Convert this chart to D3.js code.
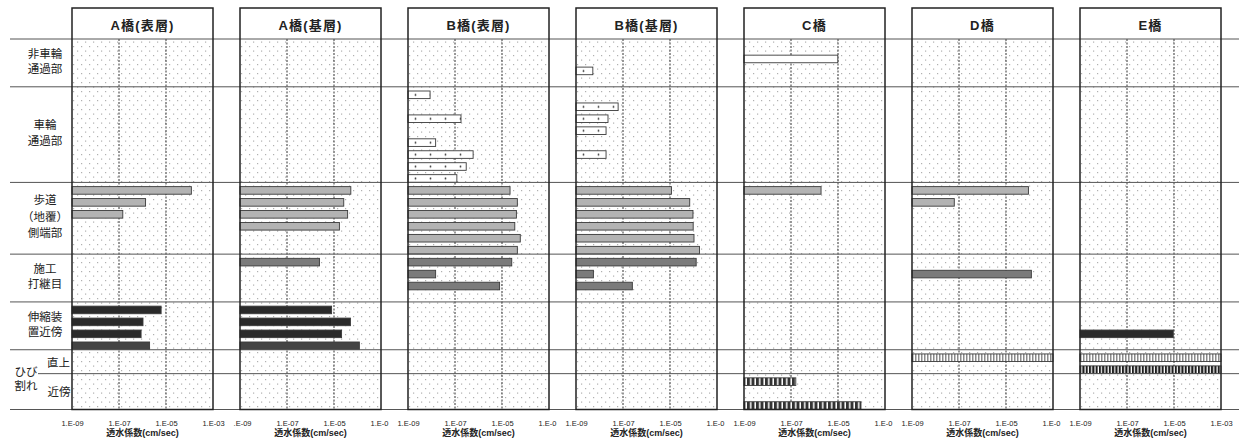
<!DOCTYPE html>
<html>
<head>
<meta charset="utf-8">
<script src="https://cdn.jsdelivr.net/npm/d3@7/dist/d3.min.js"></script>
<style>
  body { margin: 0; background: #fff; }
  svg { display: block; }
</style>
</head>
<body>
<svg id="chart" width="1239" height="438"></svg>
<script>
// panels (bridges) and row groups
const panelTitles = ["A橋(表層)", "A橋(基層)", "B橋(表層)", "B橋(基層)", "C橋", "D橋", "E橋"];
const groupLabels = [["非車輪", "通過部"], ["車輪", "通過部"], ["歩道", "（地覆）", "側端部"], ["施工", "打継目"], ["伸縮装", "置近傍"]];
const slotCounts = [4, 8, 6, 4, 4, 2, 3];

// permeability (cm/sec), one list per panel, null = empty slot
const nonWheelVals = [[], [], [], [null, null, 5.2e-9], [null, 9.8e-6], [], []];
const wheelVals = [[], [], [8.7e-9, null, 1.8e-7, null, 1.5e-8, 5.9e-7, 3e-7, 1.2e-7], [null, 6.2e-8, 2.3e-8, 1.9e-8, null, 1.9e-8], [], [], []];
const sideVals = [
  [1.2e-4, 1.35e-6, 1.45e-7],
  [5.2e-5, 2.6e-5, 3.8e-5, 1.7e-5],
  [2.2e-5, 4.5e-5, 4.1e-5, 3.5e-5, 6e-5, 4.5e-5],
  [1.15e-5, 6.9e-5, 9.5e-5, 9.7e-5, 1.05e-4, 1.8e-4],
  [1.9e-6],
  [9e-5, 6.3e-8],
  []
];
const jointVals = [[], [2.4e-6], [2.6e-5, 1.5e-8, 7.9e-6], [1.3e-4, 5.5e-9, 2.5e-7], [], [null, 1.2e-4], []];
const expansionVals = [[6.2e-6, 1.05e-6, 8.7e-7, 2e-6], [7.9e-6, 5e-5, 2.1e-5, 1.2e-4], [], [], [], [], [null, null, 9.3e-6]];
const crackOnVals = [[], [], [], [], [], [1e-3], [1e-3, 1e-3]];
const crackNearVals = [[], [], [], [], [1.6e-7, null, 9.5e-5], [], []];

const tickVals = [1e-9, 1e-7, 1e-5, 1e-3];
const firstTickLabels = ["1.E-09", ".E-09", "1.E-09", "1.E-09", "1.E-09", "1.E-09", "1.E-09"];
const lastTickLabels = ["1.E-03", "1.E-0", "1.E-0", "1.E-0", "1.E-0", "1.E-0", "1.E-03"];
const axisTitle = "透水係数(cm/sec)";

const groupKeys = ["nonWheel", "wheel", "side", "joint", "expansion", "crackOn", "crackNear"];
const groupVals = [nonWheelVals, wheelVals, sideVals, jointVals, expansionVals, crackOnVals, crackNearVals];

// layout
const panelLeft = 72, panelStep = 168, panelW = 141;
const headTop = 8, plotTop = 39, plotBottom = 409.5;
const FONT = "'Liberation Sans', 'Noto Sans CJK JP', sans-serif";

const svg = d3.select("#chart");
const defs = svg.append("defs");

// background dots
const bg = defs.append("pattern").attr("id", "bgDots")
  .attr("patternUnits", "userSpaceOnUse").attr("width", 8).attr("height", 9);
bg.append("rect").attr("width", 8).attr("height", 9).attr("fill", "#fff");
bg.append("rect").attr("x", 1).attr("y", 1).attr("width", 1.2).attr("height", 1.2).attr("fill", "#b0b0b0");
bg.append("rect").attr("x", 5).attr("y", 5.5).attr("width", 1.2).attr("height", 1.2).attr("fill", "#b0b0b0");

// stripes
function stripes(id, period, dark, color) {
  const p = defs.append("pattern").attr("id", id)
    .attr("patternUnits", "userSpaceOnUse").attr("width", period).attr("height", 20);
  p.append("rect").attr("width", period).attr("height", 20).attr("fill", "#fff");
  p.append("rect").attr("width", dark).attr("height", 20).attr("fill", color);
}
stripes("stripeLight", 3, 1.5, "#8a8a8a");
stripes("stripeDark", 3.3, 2.1, "#1e1e1e");
stripes("stripeNear", 4.5, 3, "#333");

const y = d3.scaleBand()
  .domain(groupKeys.flatMap((g, gi) => d3.range(slotCounts[gi]).map(k => g + k)))
  .range([plotTop, plotBottom]);
const step = y.step();

function barFill(g, k, p) {
  if (g === "nonWheel" && p === 4) return "#fff";
  if (g === "nonWheel" || g === "wheel") return `url(#barDots${p})`;
  if (g === "side") return "#b3b3b3";
  if (g === "joint") return "#7b7b7b";
  if (g === "expansion") return k === 3 ? "#444" : "#2a2a2a";
  if (g === "crackOn") return k === 0 ? "url(#stripeLight)" : "url(#stripeDark)";
  return "url(#stripeNear)";
}

panelTitles.forEach((title, p) => {
  const left = panelLeft + p * panelStep;
  const x = d3.scaleLog().domain([1e-9, 1e-3]).range([left, left + panelW]);

  // white bar with sparse dots, per panel phase
  const bd = defs.append("pattern").attr("id", "barDots" + p)
    .attr("patternUnits", "userSpaceOnUse").attr("x", left).attr("y", 5)
    .attr("width", 15).attr("height", step);
  bd.append("rect").attr("width", 15).attr("height", step).attr("fill", "#fff");
  bd.append("circle").attr("cx", 7.5).attr("cy", 6.2).attr("r", 0.9).attr("fill", "#333");

  const g = svg.append("g");
  g.append("rect").attr("x", left).attr("y", plotTop)
    .attr("width", panelW).attr("height", plotBottom - plotTop).attr("fill", "url(#bgDots)");

  // dashed grid
  g.selectAll("line.grid").data([1e-7, 1e-5]).enter().append("line")
    .attr("x1", d => x(d)).attr("x2", d => x(d))
    .attr("y1", plotTop).attr("y2", plotBottom)
    .attr("stroke", "#333").attr("stroke-width", 1).attr("stroke-dasharray", "2,1.5");

  // bars
  const bars = [];
  groupKeys.forEach((gk, gi) => {
    groupVals[gi][p].forEach((v, k) => { if (v != null) bars.push({ g: gk, k, v }); });
  });
  g.selectAll("rect.bar").data(bars).enter().append("rect")
    .attr("x", x(1e-9))
    .attr("y", d => y(d.g + d.k) + 4.2)
    .attr("width", d => x(d.v) - x(1e-9))
    .attr("height", 7.6)
    .attr("fill", d => barFill(d.g, d.k, p))
    .attr("stroke", "#3a3a3a").attr("stroke-width", 0.9);

  // header box
  g.append("rect").attr("x", left).attr("y", headTop)
    .attr("width", panelW).attr("height", plotTop - headTop).attr("fill", "#fff");
  g.append("text").attr("x", left + panelW / 2).attr("y", 29.5)
    .attr("text-anchor", "middle").attr("font-family", FONT)
    .attr("font-size", 13).attr("font-weight", "bold").attr("fill", "#222")
    .attr("letter-spacing", 1.2)
    .text(title);

  // ticks
  const axis = d3.axisBottom(x).tickValues(tickVals).tickSize(0)
    .tickFormat((d, i) => i === 0 ? firstTickLabels[p] : i === tickVals.length - 1 ? lastTickLabels[p] : "1.E-0" + (-Math.round(Math.log10(d))));
  const ax = g.append("g").attr("transform", `translate(0,${plotBottom + 8})`).call(axis);
  ax.select(".domain").remove();
  ax.selectAll("text").attr("font-family", FONT).attr("font-size", 7.5).attr("fill", "#222");
  ax.selectAll(".tick text")
    .attr("text-anchor", (d, i) => (i === 0 && p === 1) ? "end" : (i === tickVals.length - 1 && lastTickLabels[p] !== "1.E-03") ? "start" : "middle")
    .attr("dx", (d, i) => (i === 0 && p === 1) ? 11 : (i === tickVals.length - 1 && lastTickLabels[p] !== "1.E-03") ? -11 : 0);
  g.append("text").attr("x", left + panelW / 2).attr("y", 435.5)
    .attr("text-anchor", "middle").attr("font-family", FONT)
    .attr("font-size", 9).attr("font-weight", "bold").attr("fill", "#222")
    .text(axisTitle);
});

// row lines
const rowStarts = slotCounts.map((c, gi) => ({ y: y(groupKeys[gi] + 0), x0: gi === 6 ? 38 : 10 }));
rowStarts.push({ y: plotBottom, x0: 10 });
svg.selectAll("line.row").data(rowStarts).enter().append("line")
  .attr("x1", d => d.x0).attr("x2", 1239)
  .attr("y1", d => d.y).attr("y2", d => d.y)
  .attr("stroke", "#555").attr("stroke-width", 1);

// panel borders
svg.selectAll("rect.frame").data(panelTitles).enter().append("rect")
  .attr("x", (d, p) => panelLeft + p * panelStep).attr("y", headTop)
  .attr("width", panelW).attr("height", plotBottom - headTop)
  .attr("fill", "none").attr("stroke", "#222").attr("stroke-width", 1.5);

// left labels
const lab = svg.append("g").attr("font-family", FONT).attr("font-size", 11.5)
  .attr("fill", "#222").attr("text-anchor", "middle");
groupLabels.forEach((lines, gi) => {
  const top = y(groupKeys[gi] + 0);
  const bottom = y(groupKeys[gi + 1] + 0);
  const mid = (top + bottom) / 2 - 1.5;
  const lh = lines.length === 3 ? 16.5 : 15.5;
  lines.forEach((t, li) => {
    lab.append("text").attr("x", 45)
      .attr("y", mid + (li - (lines.length - 1) / 2) * lh + 4)
      .text(t);
  });
});
lab.append("text").attr("x", 26).attr("y", 376).text("ひび");
lab.append("text").attr("x", 26).attr("y", 389.5).text("割れ");
lab.append("text").attr("x", 58.5).attr("y", 367).text("直上");
lab.append("text").attr("x", 59).attr("y", 396).text("近傍");
</script>
</body>
</html>
